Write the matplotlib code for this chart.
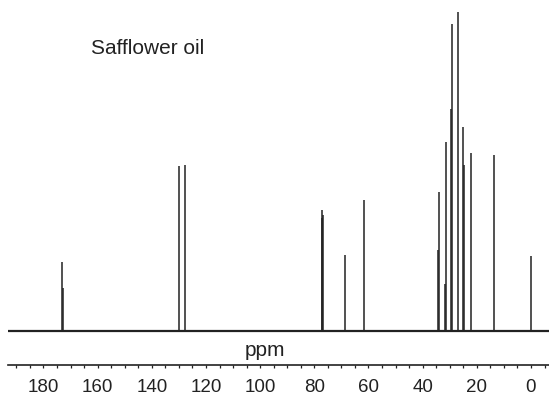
import matplotlib
matplotlib.use("Agg")
import matplotlib.pyplot as plt
from matplotlib.ticker import MultipleLocator

plt.rcParams.update({
    "font.family": ["Liberation Sans", "DejaVu Sans"],
    "font.size": 13,
})

INK = "#222222"

# peak list: chemical shift (ppm) and relative height
shifts = [173.0, 172.7, 130.0, 127.8, 77.3, 77.0, 76.7, 68.6, 61.8,
          34.2, 34.0, 31.7, 31.4, 29.4, 29.1, 27.1, 25.2, 24.6, 22.2, 13.8, 0.0]
heights = [21.6, 13.5, 51.7, 52.0, 35.4, 37.9, 36.4, 23.8, 41.1,
           25.4, 43.6, 14.7, 59.2, 69.6, 96.2, 100.0, 64.0, 52.0, 55.8, 55.2, 23.5]

x_lo, x_hi = 193.1, -6.65
tick_labels = [180, 160, 140, 120, 100, 80, 60, 40, 20, 0]

W, H = 549, 401
fig = plt.figure(figsize=(W / 100, H / 100), dpi=100)
ax = fig.add_axes([8 / W, 36 / H, 541 / W, 365 / H])

ax.plot([x_lo, x_hi], [0, 0], color=INK, lw=1.6, solid_capstyle="butt")
ax.vlines(shifts, 0, heights, color=INK, lw=1.1)

ax.set_xlim(x_lo, x_hi)
ax.set_ylim(-10.66, 103.76)

for s in ("top", "right", "left"):
    ax.spines[s].set_visible(False)
ax.spines["bottom"].set_color(INK)
ax.spines["bottom"].set_linewidth(1.2)
ax.set_yticks([])

ax.xaxis.set_minor_locator(MultipleLocator(5))
ax.set_xticks(tick_labels)
ax.set_xticklabels([str(t) for t in tick_labels])
ax.tick_params(axis="x", which="both", direction="out", length=2.5, width=0.9,
               color=INK, labelcolor=INK, pad=7.5, labelsize=13.5)

ax.text(0.475, 0.041, "ppm", transform=ax.transAxes, ha="center", va="center",
        fontsize=15, color=INK)
ax.text(0.259, 0.868, "Safflower oil", transform=ax.transAxes, ha="center",
        va="center", fontsize=15, color=INK)

fig.savefig("out.png", dpi=100)
